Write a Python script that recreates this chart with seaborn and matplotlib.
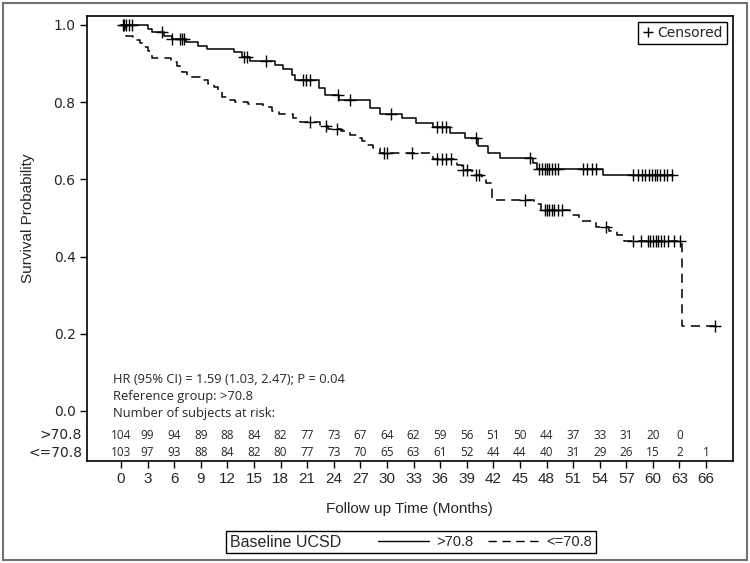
import numpy as np
import pandas as pd
import matplotlib.pyplot as plt
import matplotlib.transforms as mtransforms
import seaborn as sns
from matplotlib.lines import Line2D
from matplotlib.patches import Rectangle
from matplotlib.offsetbox import HPacker

GROUPS = ['>70.8', '<=70.8']

# KM steps: time of each step and survival after it
hi_time = [0, 3.0, 3.5, 4.8, 5.7, 7.3, 8.7, 9.7, 12.7, 13.6, 14.5, 17.4, 18.3, 19.3,
           19.6, 22.3, 23.0, 24.6, 28.1, 29.2, 31.7, 33.3, 35.2, 37.1, 38.8, 40.3,
           41.4, 42.8, 46.5, 46.9, 54.4]
hi_surv = [1.0, 0.990, 0.982, 0.972, 0.964, 0.955, 0.946, 0.937, 0.930, 0.918, 0.906,
           0.896, 0.885, 0.870, 0.858, 0.836, 0.818, 0.806, 0.784, 0.770, 0.758, 0.745,
           0.735, 0.720, 0.707, 0.685, 0.669, 0.655, 0.642, 0.628, 0.610]
hi_end = 62.3

lo_time = [0, 0.6, 1.4, 2.1, 2.6, 3.0, 3.5, 5.6, 6.3, 6.9, 7.5, 8.9, 9.8, 10.5, 10.9,
           11.4, 12.2, 12.9, 14.3, 16.0, 17.0, 17.8, 19.4, 20.2, 22.5, 23.4, 24.8,
           25.8, 26.6, 27.2, 27.8, 28.4, 29.2, 35.2, 37.9, 38.5, 39.6, 40.7, 41.2,
           41.8, 46.6, 47.4, 50.7, 51.7, 53.6, 55.0, 55.9, 56.7, 63.3]
lo_surv = [1.0, 0.971, 0.962, 0.952, 0.942, 0.932, 0.914, 0.903, 0.893, 0.879, 0.866,
           0.857, 0.848, 0.840, 0.828, 0.814, 0.806, 0.800, 0.795, 0.786, 0.778, 0.768,
           0.758, 0.748, 0.738, 0.731, 0.724, 0.715, 0.706, 0.698, 0.688, 0.680, 0.668,
           0.652, 0.636, 0.624, 0.611, 0.604, 0.591, 0.547, 0.535, 0.521, 0.508, 0.492,
           0.476, 0.465, 0.456, 0.440, 0.220]
lo_end = 67.0

hi_cens = [0.2, 0.35, 0.55, 0.85, 1.2, 4.6, 5.8, 6.7, 6.9, 7.1, 13.9, 14.2, 16.4, 20.5,
           20.9, 21.3, 24.5, 25.8, 30.5, 35.6, 36.2, 36.7, 40.1, 46.1, 47.2, 47.5, 47.8,
           48.0, 48.3, 48.6, 49.0, 49.3, 52.1, 52.6, 53.1, 53.6, 57.8, 58.3, 58.8, 59.1,
           59.6, 59.9, 60.2, 60.5, 60.8, 61.2, 61.6, 62.1]
lo_cens = [21.3, 23.1, 24.4, 29.7, 30.0, 32.8, 35.7, 36.2, 36.7, 37.2, 38.6, 39.0, 40.1,
           40.4, 45.6, 47.8, 48.1, 48.3, 48.6, 48.9, 49.3, 49.7, 54.7, 57.8, 58.7, 59.4,
           59.7, 60.0, 60.3, 60.6, 60.9, 61.3, 61.7, 62.4, 63.1, 67.0]

risk_times = list(range(0, 67, 3))
hi_risk = [104, 99, 94, 89, 88, 84, 82, 77, 73, 67, 64, 62, 59, 56, 51, 50, 44, 37, 33,
           31, 20, 0]
lo_risk = [103, 97, 93, 88, 84, 82, 80, 77, 73, 70, 65, 63, 61, 52, 44, 44, 40, 31, 29,
           26, 15, 2, 1]

HR_TEXT = ['HR (95% CI) = 1.59 (1.03, 2.47); P = 0.04',
           'Reference group: >70.8',
           'Number of subjects at risk:']


def surv_at(times, survs, t):
    i = np.searchsorted(times, t, side='right') - 1
    return survs[i]


curve_rows = []
cens_rows = []
for g, tt, ss, end, cc in [(GROUPS[0], hi_time, hi_surv, hi_end, hi_cens),
                           (GROUPS[1], lo_time, lo_surv, lo_end, lo_cens)]:
    for t, s in zip(tt + [end], ss + [ss[-1]]):
        curve_rows.append({'time': t, 'surv': s, 'group': g})
    for t in cc:
        cens_rows.append({'time': t, 'surv': surv_at(tt, ss, t), 'group': g})
df_curve = pd.DataFrame(curve_rows)
df_cens = pd.DataFrame(cens_rows)

sns.set_style('ticks')
plt.rcParams['font.family'] = ['DejaVu Sans']

fig = plt.figure(figsize=(7.5, 5.63), dpi=100)
ax = fig.add_axes([0.1156, 0.1812, 0.8613, 0.7904])

DASH = (6, 4)
sns.lineplot(data=df_curve, x='time', y='surv', hue='group', style='group',
             palette={g: 'black' for g in GROUPS}, dashes={GROUPS[0]: '', GROUPS[1]: DASH},
             drawstyle='steps-post', estimator=None, sort=False, lw=1.1,
             legend=False, ax=ax)
sns.scatterplot(data=df_cens, x='time', y='surv', marker='+', color='black', s=70,
                linewidth=1.0, legend=False, ax=ax)

ax.set_xlim(-3.87, 69.0)
ax.set_ylim(-0.1295, 1.023)
ax.set_xticks(risk_times)
ax.set_xticklabels([str(t) for t in risk_times], family='Liberation Sans', fontsize=11)
yt = [0, 0.2, 0.4, 0.6, 0.8, 1.0]
ax.set_yticks(yt)
ax.set_yticklabels([f'{v:.1f}' for v in yt], fontsize=10)
ax.tick_params(direction='out', length=5, width=1, color='black', pad=3)
for sp in ax.spines.values():
    sp.set_linewidth(1.2)
    sp.set_color('black')

ax.set_xlabel('Follow up Time (Months)', family='Liberation Sans', fontsize=11)
ax.xaxis.set_label_coords(0.5, -0.092)
ax.set_ylabel('Survival Probability', family='Liberation Sans', fontsize=11)
ax.yaxis.set_label_coords(-0.080, 0.546)

# HR text and risk table
for txt, yy in zip(HR_TEXT, [0.182, 0.144, 0.106]):
    ax.text(0.0407, yy, txt, transform=ax.transAxes, ha='left', va='center',
            family='Open Sans', fontsize=9.3)
trans = mtransforms.blended_transform_factory(ax.transData, ax.transAxes)
for g, risk, yy in [(GROUPS[0], hi_risk, 0.058), (GROUPS[1], lo_risk, 0.019)]:
    ax.text(-0.007, yy, g, transform=ax.transAxes, ha='right', va='center', fontsize=10)
    for t, n in zip(risk_times, risk):
        ax.text(t, yy, str(n), transform=trans, ha='center', va='center',
                family='Open Sans', fontsize=8.5)

# censored legend
cens_leg = ax.legend(handles=[Line2D([], [], marker='+', ls='none', color='black',
                                     markersize=7, markeredgewidth=1)],
                     labels=['Censored'], loc='upper right', fancybox=False,
                     edgecolor='black', framealpha=1, handlelength=0.8,
                     handletextpad=0.3, borderpad=0.3, borderaxespad=0.4, fontsize=10)
cens_leg.get_frame().set_linewidth(1.0)

# bottom legend with inline title
h_hi = Line2D([], [], color='black', lw=1.0)
h_lo = Line2D([], [], color='black', lw=1.0, dashes=DASH)
leg = fig.legend([h_hi, h_lo], GROUPS, ncol=2, loc='center',
                 bbox_to_anchor=(0.548, 0.0373), title='Baseline UCSD',
                 fancybox=False, edgecolor='black', framealpha=1,
                 handlelength=3.5, columnspacing=1.0, handletextpad=0.5,
                 borderpad=0.25, prop={'family': 'Liberation Sans', 'size': 10.5},
                 title_fontproperties={'family': 'Liberation Sans', 'size': 11.5})
leg.get_frame().set_linewidth(1.0)
fs = leg._fontsize
box = HPacker(pad=leg.borderpad * fs, sep=2.5 * fs, align='center',
              children=[leg._legend_title_box, leg._legend_handle_box])
box.set_figure(fig)
box.set_offset(leg._findoffset)
leg._legend_box = box

fig.add_artist(Rectangle((0.004, 0.005), 0.992, 0.99, transform=fig.transFigure,
                         fill=False, ec='#707070', lw=1.5))

fig.savefig('out.png', dpi=100)
